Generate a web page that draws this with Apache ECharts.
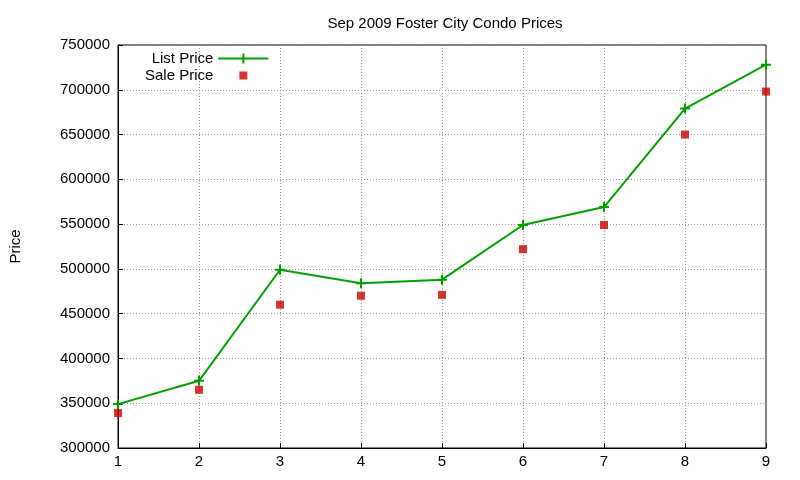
<!DOCTYPE html>
<html><head><meta charset="utf-8">
<script src="https://cdn.jsdelivr.net/npm/echarts@6/dist/echarts.min.js"></script>
<style>html,body{margin:0;padding:0;background:#fff}#c{width:800px;height:480px}</style>
</head><body><div id="c"></div>
<script>
const xs = [1,2,3,4,5,6,7,8,9];
const listPrice = [349000,375000,499000,484000,488000,549000,569000,679000,728000];
const salePrice = [339000,365000,460000,470000,471000,522000,549000,650000,698000];
const chart = echarts.init(document.getElementById('c'));
const font = 'Liberation Sans, Arial, sans-serif';
chart.setOption({
  animation:false,
  title:{text:'Sep 2009 Foster City Condo Prices',left:440,top:11,textAlign:'center',
    textStyle:{fontSize:15,fontWeight:'normal',color:'#000',fontFamily:font}},
  legend:{orient:'vertical',left:140,top:46,align:'right',itemGap:2,itemWidth:50,itemHeight:12,
    textStyle:{fontSize:15,color:'#000',fontFamily:font},
    data:[{name:'List Price',icon:'path://M0,5L50,5L50,7L0,7Z M24,1L26,1L26,11L24,11Z M0,0L0.01,0Z M50,12L49.99,12Z'},
          {name:'Sale Price',icon:'path://M21,2L29,2L29,10L21,10Z M0,0L0.01,0Z M50,12L49.99,12Z'}]},
  grid:{left:118,right:34,top:45,bottom:32,show:true,borderColor:'#000',borderWidth:1},
  xAxis:{type:'value',min:1,max:9,interval:1,
    axisLine:{lineStyle:{color:'#000'}},axisTick:{inside:true,lineStyle:{color:'#000'}},
    axisLabel:{color:'#000',fontSize:15,fontFamily:font,margin:6},
    splitLine:{lineStyle:{color:'#999',type:[1,2]}}},
  yAxis:{type:'value',min:300000,max:750000,interval:50000,name:'Price',nameLocation:'middle',nameGap:95,
    nameTextStyle:{fontSize:15,color:'#000',fontFamily:font},
    axisLine:{show:true,lineStyle:{color:'#000'}},axisTick:{inside:true,lineStyle:{color:'#000'}},
    axisLabel:{color:'#000',fontSize:15,fontFamily:font,margin:8,formatter:v=>String(v)},
    splitLine:{lineStyle:{color:'#999',type:[1,2]}}},
  series:[
    {name:'List Price',type:'line',data:xs.map((x,i)=>[x,listPrice[i]]),color:'#00a000',
      lineStyle:{width:2,color:'#00a000'},symbol:'path://M4,0L6,0L6,10L4,10Z M0,4L10,4L10,6L0,6Z',symbolSize:10,
      itemStyle:{color:'#00a000'}},
    {name:'Sale Price',type:'scatter',data:xs.map((x,i)=>[x,salePrice[i]]),color:'#cc0000',
      symbol:'rect',symbolSize:8,itemStyle:{color:'#cc0000'}}
  ]
});
</script></body></html>
